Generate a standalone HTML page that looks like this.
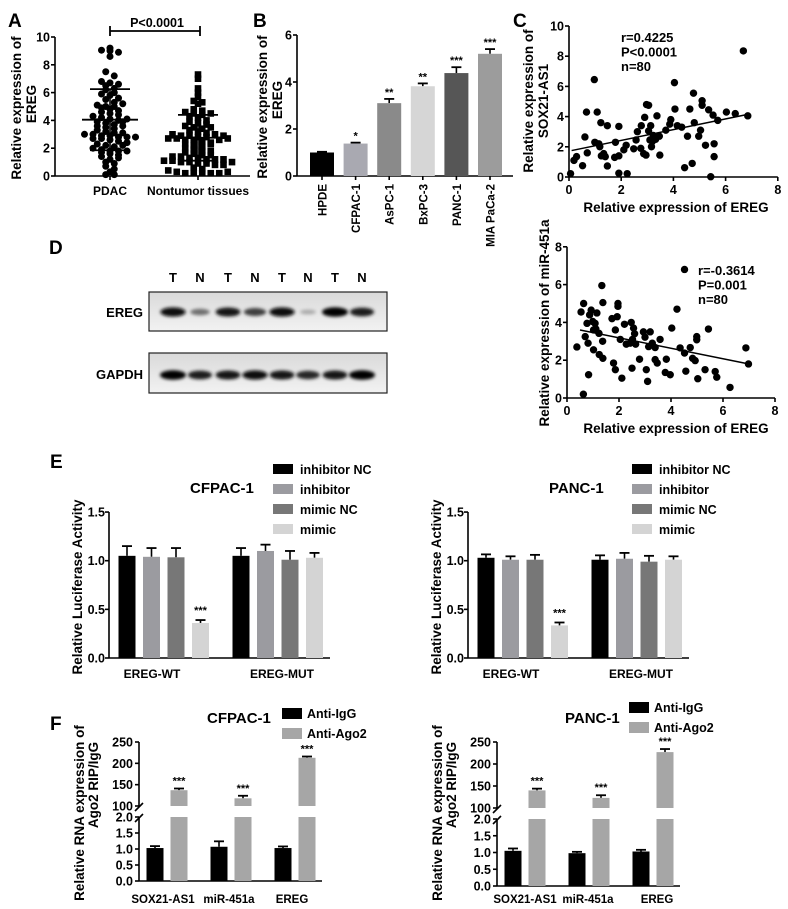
<!DOCTYPE html>
<html><head><meta charset="utf-8"><style>
html,body{margin:0;padding:0;background:#fff;}
svg{display:block;font-family:"Liberation Sans",Arial,sans-serif;font-weight:bold;}
</style></head><body>
<svg id="fig" width="788" height="909" viewBox="0 0 788 909" xmlns="http://www.w3.org/2000/svg">
<defs>
<filter id="blur" x="-50%" y="-100%" width="200%" height="300%"><feGaussianBlur stdDeviation="1.6"/></filter>
<linearGradient id="blotbg" x1="0" y1="0" x2="0" y2="1"><stop offset="0" stop-color="#d9d9d9"/><stop offset="0.5" stop-color="#e6e6e6"/><stop offset="1" stop-color="#f2f2f2"/></linearGradient>
</defs>
</svg>
<script>
// ---- Panel A data ----
const pdacVals=[9.2,9.05,9.0,8.9,8.6,7.5,7.2,6.8,6.7,6.6,6.5,6.3,6.2,5.9,5.8,5.6,5.5,5.3,5.1,5.0,5.0,4.9,4.8,4.6,4.5,4.4,4.3,4.2,4.1,4.0,3.9,3.8,3.7,3.6,3.5,3.4,3.3,3.2,3.1,3.0,3.0,2.9,2.9,2.8,2.8,2.8,2.7,2.7,2.6,2.5,2.4,2.3,2.2,2.1,2.0,1.9,1.8,1.8,1.8,1.7,1.6,1.5,1.4,1.2,1.0,0.9,0.7,0.5,0.3,0.1,0.1,4.7,3.9,5.2,6.0,3.1,2.2,1.3,4.1,3.6];
const nonVals=[7.3,7.0,6.3,6.0,5.7,5.4,5.3,5.2,4.8,4.7,4.6,4.5,4.4,4.3,4.2,4.0,3.9,3.8,3.7,3.6,3.5,3.4,3.3,3.2,3.1,3.0,2.9,2.9,2.8,2.8,2.7,2.7,2.6,2.6,2.5,2.4,2.3,2.2,2.1,2.0,1.9,1.8,1.7,1.6,1.5,1.4,1.4,1.3,1.3,1.2,1.2,1.1,1.1,1.0,1.0,0.9,0.9,0.8,0.6,0.5,0.4,0.3,0.2,0.2,0.2,0.2,0.2,0.3,2.6,1.5,1.8,2.7,3.0,3.5,4.5,1.2,0.8,2.3,2.9,1.0];
const aGroups=["PDAC","Nontumor tissues"];
const aMeans=[4.05,2.75];
const aSDs=[2.2,1.65];
const aTicks=[0,2,4,6,8,10];
// ---- Panel B data ----
const bCats=["HPDE","CFPAC-1","AsPC-1","BxPC-3","PANC-1","MIA PaCa-2"];
const bVals=[1.0,1.38,3.1,3.82,4.38,5.2];
const bErr=[0.03,0.04,0.18,0.12,0.25,0.2];
const bSig=["","*","**","**","***","***"];
const bTicks=[0,2,4,6];
// ---- Panel C data ----
const c1X=[0.06,0.19,0.29,0.52,0.61,0.67,0.7,0.97,0.99,1.08,1.14,1.18,1.22,1.24,1.33,1.39,1.47,1.47,1.75,1.78,1.91,1.91,1.91,2.1,2.19,2.23,2.48,2.57,2.62,2.75,2.77,2.86,2.9,2.95,2.97,3.05,3.05,3.1,3.13,3.16,3.19,3.23,3.32,3.37,3.46,3.48,3.71,3.9,3.86,4.04,4.06,4.15,4.32,4.43,4.54,4.63,4.72,4.77,4.8,4.97,5.04,5.1,5.1,5.23,5.35,5.43,5.52,5.56,5.56,5.7,6.03,6.37,6.68,6.85];
const c1Y=[0.22,1.1,1.35,0.75,2.65,4.3,1.6,6.45,2.3,4.3,2.2,2.0,3.6,1.4,1.55,1.35,3.4,0.73,1.3,2.3,3.35,1.4,0.25,1.8,2.1,0.22,1.87,2.45,3.0,1.9,3.4,1.55,3.95,1.45,4.8,4.75,3.05,2.45,3.4,2.0,2.35,2.75,2.5,4.05,2.7,1.45,3.1,3.8,3.5,6.25,4.5,3.4,3.3,0.62,2.7,4.5,0.9,5.55,3.6,2.7,3.1,5.05,4.75,2.1,4.45,0.02,4.1,2.2,1.35,3.75,4.3,4.2,8.35,4.05];
const c1Fit=[[0.1,1.75],[6.85,4.15]];
const c1Stats=["r=0.4225","P<0.0001","n=80"];
const c2X=[0.38,0.54,0.63,0.64,0.7,0.77,0.81,0.83,0.87,0.93,0.99,1.02,1.02,1.08,1.11,1.15,1.23,1.24,1.34,1.37,1.38,1.38,1.73,1.79,1.86,1.86,1.93,1.96,1.96,2.05,2.11,2.21,2.28,2.43,2.47,2.5,2.52,2.56,2.6,2.64,2.79,2.94,3.0,3.05,3.1,3.14,3.2,3.28,3.39,3.39,3.47,3.58,3.78,3.82,3.97,4.03,4.23,4.35,4.52,4.57,4.52,4.74,4.83,4.93,4.99,4.99,5.03,5.31,5.44,5.7,5.76,6.27,6.88,6.98];
const c2Y=[2.7,4.55,0.2,5.0,3.25,3.95,2.9,1.23,4.4,4.65,4.05,3.6,2.55,3.95,3.65,4.5,3.42,2.3,5.95,3.0,2.1,5.05,4.2,1.85,1.5,3.6,4.3,4.85,5.0,3.1,1.05,3.9,2.85,2.9,4.0,1.58,3.1,3.7,3.4,2.85,2.05,3.5,3.22,1.5,0.88,2.72,3.5,2.9,2.67,2.03,1.85,3.1,1.35,2.05,1.23,3.7,4.7,2.65,2.38,1.42,6.8,2.67,2.1,1.98,3.25,3.08,1.02,1.5,3.65,1.4,1.1,0.56,2.65,1.8];
const c2Fit=[[0.5,3.6],[7.0,1.8]];
const c2Stats=["r=-0.3614","P=0.001","n=80"];
const cXTicks=[0,2,4,6,8];
const c1YTicks=[0,2,4,6,8,10];
const c2YTicks=[0,2,4,6,8];
// ---- Panel D data ----
const dLanes=["T","N","T","N","T","N","T","N"];
const dEreg=[0.95,0.45,0.9,0.7,0.95,0.15,1.0,0.85];
const dGapdh=[1.0,0.85,0.9,0.95,0.9,0.8,0.9,1.0];
// ---- Panel E data ----
const eSeries=["inhibitor NC","inhibitor","mimic NC","mimic"];
const eGroups=["EREG-WT","EREG-MUT"];
const eLeftVals=[[1.05,1.04,1.035,0.36],[1.05,1.10,1.01,1.03]];
const eLeftErr=[[0.10,0.09,0.095,0.03],[0.08,0.065,0.09,0.05]];
const eRightVals=[[1.03,1.01,1.01,0.335],[1.01,1.02,0.99,1.01]];
const eRightErr=[[0.035,0.035,0.05,0.03],[0.045,0.06,0.06,0.035]];
const eTicks=[0.0,0.5,1.0,1.5];
// ---- Panel F data ----
const fCats=["SOX21-AS1","miR-451a","EREG"];
const fSeries=["Anti-IgG","Anti-Ago2"];
const fLeftIgg=[1.03,1.07,1.03];
const fLeftIggErr=[0.06,0.17,0.05];
const fLeftAgo=[137,118,213];
const fLeftAgoErr=[4,6,3];
const fRightIgg=[1.05,0.98,1.03];
const fRightIggErr=[0.07,0.04,0.05];
const fRightAgo=[140,123,227];
const fRightAgoErr=[4,6,7];
const fUpperTicks=[100,150,200,250];
const fLowerTicks=[0.0,0.5,1.0,1.5,2.0];

const NS="http://www.w3.org/2000/svg";
const svg=document.getElementById('fig');
function el(tag,attrs,name,parent){
  const e=document.createElementNS(NS,tag);
  for(const k in attrs)e.setAttribute(k,attrs[k]);
  
  
  (parent||svg).appendChild(e);return e;
}
function txt(x,y,s,size,name,opt){
  opt=opt||{};
  const a={x:x,y:y,'font-size':size,'text-anchor':opt.anchor||'start',fill:opt.fill||'#000'};
  if(opt.rot!==undefined)a.transform='rotate('+opt.rot+' '+x+' '+y+')';
  const t=el('text',a,name);t.textContent=s;return t;
}
function line(x1,y1,x2,y2,name,w,c){return el('line',{x1:x1,y1:y1,x2:x2,y2:y2,stroke:c||'#000','stroke-width':w||1.6},name);}
function rect(x,y,w,h,fill,name){return el('rect',{x:x,y:y,width:w,height:h,fill:fill},name);}
function errbar(cx,yTop,yVal,name){line(cx,yVal,cx,yTop,name,1.6);line(cx-5,yTop,cx+5,yTop,name+'-cap',1.8);}

const TK=12.5, TT=13.5;
// panel letters
txt(8,27,"A",19,'panel-label-a');
txt(253,27,"B",19,'panel-label-b');
txt(513,27,"C",19,'panel-label-c');
txt(49,254,"D",19,'panel-label-d');
txt(50,468,"E",19,'panel-label-e');
txt(50,730,"F",19,'panel-label-f');

// ===== Panel A =====
(function(){
  const ax=55,y0=176,k=13.9,xEnd=250;
  const ya=v=>y0-v*k;
  line(ax,y0,ax,ya(10),'a-y-axis');
  line(ax,y0,xEnd,y0,'a-x-axis');
  aTicks.forEach(t=>{line(ax-4,ya(t),ax,ya(t),'a-y-tick');txt(ax-5,ya(t)+4.5,String(t),TK,'a-y-tick-label',{anchor:'end'});});
  txt(21,108,"Relative expression of",TT,'a-y-axis-title',{anchor:'middle',rot:-90});
  txt(36,104,"EREG",TT,'a-y-axis-title-2',{anchor:'middle',rot:-90});
  const centers=[110,198];
  aGroups.forEach((g,i)=>{line(centers[i],y0,centers[i],y0+4,'a-x-tick');txt(centers[i],195,g,12,'a-x-tick-label',{anchor:'middle'});});
  [pdacVals,nonVals].forEach((vals,gi)=>{
    const bins={};
    vals.forEach((v,i)=>{const b=Math.round(v/0.32);(bins[b]=bins[b]||[]).push(i);});
    Object.keys(bins).forEach(b=>{
      const idx=bins[b];const n=idx.length;
      idx.forEach((vi,j)=>{
        const off=(j-(n-1)/2)*8.5;
        const cx=centers[gi]+off,cy=ya(vals[vi]);
        if(gi===0){el('circle',{cx:cx,cy:cy,r:3.5,fill:'#000'},'pdac-point');}
        else{el('rect',{x:cx-3.3,y:cy-3.3,width:6.6,height:6.6,fill:'#000'},'nontumor-point');}
      });
    });
    const c=centers[gi];
    line(c-28,ya(aMeans[gi]),c+28,ya(aMeans[gi]),'a-mean-line',1.8);
    line(c,ya(aMeans[gi]-aSDs[gi]),c,ya(aMeans[gi]+aSDs[gi]),'a-sd-line',1.6);
    line(c-20,ya(aMeans[gi]+aSDs[gi]),c+20,ya(aMeans[gi]+aSDs[gi]),'a-sd-cap',1.8);
    line(c-20,ya(aMeans[gi]-aSDs[gi]),c+20,ya(aMeans[gi]-aSDs[gi]),'a-sd-cap',1.8);
  });
  line(110,31,200,31,'a-sig-bracket',1.8);
  line(110,26,110,36,'a-sig-bracket-end',1.8);
  line(200,26,200,36,'a-sig-bracket-end',1.8);
  txt(157,27,"P<0.0001",12.5,'a-p-value',{anchor:'middle'});
})();

// ===== Panel B =====
(function(){
  const ax=297,y0=176,k=23.5,x0=322,step=33.6,bw=24;
  const yb=v=>y0-v*k;
  const cols=['#000','#a9a9b1','#8a8a8a','#d6d6d6','#565656','#9c9c9c'];
  line(ax,y0,ax,yb(6),'b-y-axis');
  line(ax,y0,513,y0,'b-x-axis');
  bTicks.forEach(t=>{line(ax-4,yb(t),ax,yb(t),'b-y-tick');txt(ax-5,yb(t)+4.5,String(t),TK,'b-y-tick-label',{anchor:'end'});});
  txt(267,107,"Relative expression of",TT,'b-y-axis-title',{anchor:'middle',rot:-90});
  txt(282,100,"EREG",TT,'b-y-axis-title-2',{anchor:'middle',rot:-90});
  bCats.forEach((c,i)=>{
    const cx=x0+i*step;
    errbar(cx,yb(bVals[i]+bErr[i]),yb(bVals[i]),'b-error-bar');
    rect(cx-bw/2,yb(bVals[i]),bw,y0-yb(bVals[i]),cols[i],'bar-'+c.toLowerCase().replace(/ /g,'-'));
    if(bSig[i])txt(cx,yb(bVals[i]+bErr[i])-3,bSig[i],11,'b-significance',{anchor:'middle'});
    line(cx,y0,cx,y0+4,'b-x-tick');
    txt(cx+4.5,184,c,11.5,'b-x-tick-label',{anchor:'end',rot:-90});
  });
})();

// ===== Panel C scatter helper =====
function scatter(o){
  const xs=v=>o.x0+v*o.kx, ys=v=>o.y0-v*o.ky;
  line(o.x0,o.y0,o.x0,ys(o.yTicks[o.yTicks.length-1]),o.p+'-y-axis');
  line(o.x0,o.y0,xs(8),o.y0,o.p+'-x-axis');
  o.yTicks.forEach(t=>{line(o.x0-4,ys(t),o.x0,ys(t),o.p+'-y-tick');txt(o.x0-5,ys(t)+4.5,String(t),TK,o.p+'-y-tick-label',{anchor:'end'});});
  cXTicks.forEach(t=>{line(xs(t),o.y0,xs(t),o.y0+4,o.p+'-x-tick');txt(xs(t),o.y0+17,String(t),TK,o.p+'-x-tick-label',{anchor:'middle'});});
  o.xs.forEach((v,i)=>{el('circle',{cx:xs(v),cy:ys(o.ys[i]),r:3.7,fill:'#000'},o.p+'-point');});
  line(xs(o.fit[0][0]),ys(o.fit[0][1]),xs(o.fit[1][0]),ys(o.fit[1][1]),o.p+'-regression-line',1.5);
  o.stats.forEach((s,i)=>txt(o.sx,o.sy+i*14.5,s,13,o.p+'-stat-text'));
  txt(676,o.y0+35,"Relative expression of EREG",TT,o.p+'-x-axis-title',{anchor:'middle'});
}
scatter({p:'c1',x0:569,y0:177,kx:26.1,ky:15.1,yTicks:c1YTicks,xs:c1X,ys:c1Y,fit:c1Fit,stats:c1Stats,sx:621,sy:42});
txt(533,101,"Relative expression of",TT,'c1-y-axis-title',{anchor:'middle',rot:-90});
txt(548,101,"SOX21-AS1",TT,'c1-y-axis-title-2',{anchor:'middle',rot:-90});
scatter({p:'c2',x0:567,y0:398,kx:26,ky:18.9,yTicks:c2YTicks,xs:c2X,ys:c2Y,fit:c2Fit,stats:c2Stats,sx:698,sy:275});
txt(549,323,"Relative expression of miR-451a",TT,'c2-y-axis-title',{anchor:'middle',rot:-90});

// ===== Panel D (western blot) =====
(function(){
  const lx=[173,200,228,255,282,308,335,362];
  dLanes.forEach((l,i)=>txt(lx[i],282,l,13,'lane-label',{anchor:'middle'}));
  txt(143,317,"EREG",13,'blot-label-ereg',{anchor:'end'});
  txt(143,379,"GAPDH",13,'blot-label-gapdh',{anchor:'end'});
  [[292,39,dEreg,312,'ereg'],[353,40,dGapdh,375,'gapdh']].forEach(b=>{
    el('rect',{x:149,y:b[0],width:238,height:b[1],fill:'url(#blotbg)',stroke:'#222','stroke-width':1.2},'blot-'+b[4]+'-membrane');
    b[2].forEach((v,i)=>{
      const g=Math.round(200-200*v);
      el('ellipse',{cx:lx[i],cy:b[3],rx:7+6*v,ry:2+2.8*v,fill:'rgb('+g+','+g+','+g+')',filter:'url(#blur)'},'blot-'+b[4]+'-band');
    });
  });
})();

// ===== Panel E =====
const eCols=['#000','#9b9ba0','#777777','#d4d4d4'];
function panelE(o){
  const y0=658,k=97.3,ye=v=>y0-v*k;
  line(o.ax,y0,o.ax,ye(1.5),o.p+'-y-axis');
  line(o.ax,y0,o.ax+221,y0,o.p+'-x-axis');
  eTicks.forEach(t=>{line(o.ax-4,ye(t),o.ax,ye(t),o.p+'-y-tick');txt(o.ax-4,ye(t)+4.5,t.toFixed(1),TK,o.p+'-y-tick-label',{anchor:'end'});});
  txt(o.ax-27,587,"Relative Luciferase Activity",TT,o.p+'-y-axis-title',{anchor:'middle',rot:-90});
  const gOff=[18,132];
  eGroups.forEach((g,gi)=>{
    eSeries.forEach((s,si)=>{
      const cx=o.ax+gOff[gi]+si*24.5,v=o.vals[gi][si],e=o.err[gi][si];
      errbar(cx,ye(v+e),ye(v),o.p+'-error-bar');
      rect(cx-8.5,ye(v),17,y0-ye(v),eCols[si],o.p+'-bar-'+s.replace(/ /g,'-'));
      if(gi===0&&si===3)txt(cx,ye(v+e)-6,"***",11,o.p+'-significance',{anchor:'middle'});
    });
    txt(o.ax+[43,173][gi],678,g,12,o.p+'-x-tick-label',{anchor:'middle'});
  });
  txt(o.ax+81,493,o.title,15,o.p+'-title');
  eSeries.forEach((s,si)=>{
    rect(o.ax+164,464+si*20,20,10,eCols[si],o.p+'-legend-swatch');
    txt(o.ax+191,474+si*20,s,12.5,o.p+'-legend-entry');
  });
}
panelE({p:'e-left',ax:109,vals:eLeftVals,err:eLeftErr,title:"CFPAC-1"});
panelE({p:'e-right',ax:468,vals:eRightVals,err:eRightErr,title:"PANC-1"});

// ===== Panel F =====
function panelF(o){
  const yu=v=>o.uTop+(250-v)*o.ku, yl=v=>o.l0-v*o.kl;
  line(o.ax,yu(250),o.ax,yu(100),o.p+'-y-axis-upper');
  line(o.ax,yl(2),o.ax,o.l0,o.p+'-y-axis-lower');
  line(o.ax-4,yu(100)+5,o.ax+4,yu(100)-3,o.p+'-axis-break');
  line(o.ax-4,yl(2)+5,o.ax+4,yl(2)-3,o.p+'-axis-break');
  line(o.ax,o.l0,o.ax+183,o.l0,o.p+'-x-axis');
  fUpperTicks.forEach(t=>{line(o.ax-4,yu(t),o.ax,yu(t),o.p+'-y-tick');txt(o.ax-6,yu(t)+4.5,String(t),TK,o.p+'-y-tick-label',{anchor:'end'});});
  fLowerTicks.forEach(t=>{line(o.ax-4,yl(t),o.ax,yl(t),o.p+'-y-tick');txt(o.ax-6,yl(t)+4.5,t.toFixed(1),TK,o.p+'-y-tick-label',{anchor:'end'});});
  txt(o.ax-55,813,"Relative  RNA expression of",TT,o.p+'-y-axis-title',{anchor:'middle',rot:-90});
  txt(o.ax-41,785,"Ago2 RIP/IgG",TT,o.p+'-y-axis-title-2',{anchor:'middle',rot:-90});
  const gOff=[16,80,144];
  fCats.forEach((c,i)=>{
    const cb=o.ax+gOff[i],cg=cb+24;
    errbar(cb,yl(o.igg[i]+o.iggErr[i]),yl(o.igg[i]),o.p+'-error-bar');
    rect(cb-8.5,yl(o.igg[i]),17,o.l0-yl(o.igg[i]),'#000',o.p+'-bar-anti-igg');
    rect(cg-8.5,yl(2),17,o.l0-yl(2),'#a6a6a6',o.p+'-bar-anti-ago2-lower');
    errbar(cg,yu(o.ago[i]+o.agoErr[i]),yu(o.ago[i]),o.p+'-error-bar');
    rect(cg-8.5,yu(o.ago[i]),17,yu(100)-yu(o.ago[i]),'#a6a6a6',o.p+'-bar-anti-ago2');
    txt(cg,yu(o.ago[i]+o.agoErr[i])-4,"***",11,o.p+'-significance',{anchor:'middle'});
    txt(o.ax+o.lab[i],903,c,11.5,o.p+'-x-tick-label',{anchor:'middle'});
  });
  txt(o.ax+68,723,o.title,15,o.p+'-title');
  fSeries.forEach((s,si)=>{
    rect(o.ax+o.lg,o.lgy+si*20-5,20,11,si?'#a6a6a6':'#000',o.p+'-legend-swatch');
    txt(o.ax+o.lg+25,o.lgy+si*20+5,s,12.5,o.p+'-legend-entry');
  });
}
panelF({p:'f-left',ax:139,uTop:742,ku:64/150,l0:881,kl:32,igg:fLeftIgg,iggErr:fLeftIggErr,ago:fLeftAgo,agoErr:fLeftAgoErr,lab:[24,90,153],title:"CFPAC-1",lg:143,lgy:713});
panelF({p:'f-right',ax:497,uTop:742,ku:66/150,l0:886,kl:33.5,igg:fRightIgg,iggErr:fRightIggErr,ago:fRightAgo,agoErr:fRightAgoErr,lab:[28,91,160],title:"PANC-1",lg:132,lgy:707});
</script>
</body></html>
